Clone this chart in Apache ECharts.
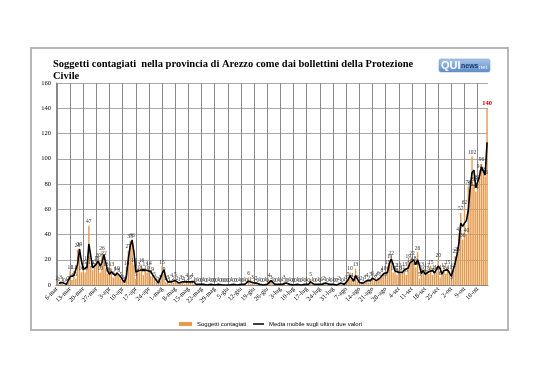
<!DOCTYPE html>
<html><head><meta charset="utf-8">
<script src="https://cdn.jsdelivr.net/npm/echarts@6/dist/echarts.min.js"></script>
<style>html,body{margin:0;padding:0;background:#fff}#c{width:538px;height:380px}</style>
</head><body><div id="c"></div>
<script>
const titleText = 'Soggetti contagiati  nella provincia di Arezzo come dai bollettini della Protezione\nCivile';
const seriesNames = ['Soggetti contagiati', 'Media mobile sugli ultimi due valori'];
const startDay = 6;
const monthNames = ['mar', 'apr', 'mag', 'giu', 'lug', 'ago', 'set', 'ott'];
const monthLengths = [31, 30, 31, 30, 31, 31, 30, 31];
const yMin = 0, yMax = 160, yStep = 20;

const values = [
  2,1,3,1,0,1,2,
  11,4,11,5,28,29,10,
  15,10,18,47,15,12,15,
  18,20,10,26,22,13,9,
  8,13,6,9,10,8,5,
  3,1,14,27,35,36,16,
  5,13,10,16,8,13,10,
  14,7,9,5,2,1,3,
  15,9,2,3,1,4,2,
  5,2,1,3,2,1,4,
  2,3,4,1,0,1,0,
  0,1,0,0,1,0,0,
  0,0,1,0,0,0,0,
  0,0,1,0,0,0,1,
  0,0,1,0,6,1,3,
  1,2,0,1,0,0,1,
  0,4,3,1,0,0,1,
  0,1,3,0,0,1,0,
  0,0,1,0,0,1,0,
  1,0,5,1,0,0,1,
  0,1,2,1,0,1,0,
  1,0,0,2,1,0,1,
  3,5,10,4,2,13,3,
  1,2,1,3,4,2,5,
  6,3,4,6,5,8,10,
  5,15,19,22,10,12,8,
  12,9,11,13,8,19,16,
  22,18,14,26,5,13,10,
  7,12,9,15,8,11,10,
  20,6,11,12,9,15,11,
  3,12,23,25,41,57,36,
  62,40,78,76,102,80,74,
  82,91,96,88,86,140
];

const categories = [];
{
  let m = 0, d = startDay;
  for (let i = 0; i < values.length; i++) {
    categories.push(d + '-' + monthNames[m]);
    d++;
    if (d > monthLengths[m]) { d = 1; m++; }
  }
}
// two-period moving average, as named in the legend
const movingAvg = values.map((v, i) => i === 0 ? '-' : (values[i - 1] + v) / 2);

const barData = values.map((v, i) => i === values.length - 1
  ? { value: v, label: { color: '#c00000', fontWeight: 'bold', fontSize: 6.5 } }
  : v);

const legendText = { fontFamily: 'Liberation Sans Narrow, Liberation Sans', fontSize: 6, color: '#000' };

const chart = echarts.init(document.getElementById('c'), null, { renderer: 'canvas' });
chart.setOption({
  animation: false,
  backgroundColor: '#fff',
  title: {
    text: titleText,
    left: 48, top: 53,
    textStyle: { fontFamily: 'Liberation Serif', fontSize: 10.5, fontWeight: 'bold', color: '#000', lineHeight: 12 }
  },
  legend: [
    {
      top: 316, left: 174,
      itemWidth: 13, itemHeight: 4, itemGap: 4,
      textStyle: legendText,
      data: [{ name: seriesNames[0], icon: 'rect' }]
    },
    {
      top: 316, left: 248,
      itemWidth: 11, itemHeight: 1.5,
      textStyle: legendText,
      data: [{ name: seriesNames[1], icon: 'rect' }]
    }
  ],
  grid: { left: 56, right: 50, top: 83, bottom: 95 },
  xAxis: {
    type: 'category',
    data: categories,
    boundaryGap: true,
    axisLine: { lineStyle: { color: '#888', width: 1 } },
    axisTick: { show: false },
    axisLabel: { interval: 6, rotate: 45, fontFamily: 'Liberation Serif', fontSize: 6.5, color: '#000', margin: 3 },
    splitLine: { show: true, interval: 6, alignWithLabel: true, lineStyle: { color: '#8a8a8a', width: 1 } }
  },
  yAxis: {
    type: 'value',
    min: yMin, max: yMax, interval: yStep,
    axisLine: { show: true, lineStyle: { color: '#888', width: 1 } },
    axisTick: { show: false },
    axisLabel: { fontFamily: 'Liberation Serif', fontSize: 6.5, color: '#000', margin: 5 },
    splitLine: { show: true, lineStyle: { color: '#a8a8a8', width: 1 } }
  },
  series: [
    {
      name: seriesNames[0],
      type: 'bar',
      data: barData,
      barCategoryGap: '25%',
      itemStyle: { color: '#E39B50' },
      label: { show: true, position: 'top', distance: 1, fontFamily: 'Liberation Serif', fontSize: 5.5, color: '#333' }
    },
    {
      name: seriesNames[1],
      type: 'line',
      data: movingAvg,
      symbol: 'none',
      z: 5,
      lineStyle: { color: '#000', width: 1.6 },
      itemStyle: { color: '#000' }
    }
  ],
  graphic: [
    { type: 'rect', shape: { x: 31, y: 48, width: 477, height: 282 }, style: { fill: 'none', stroke: '#b5b5b5', lineWidth: 2 }, silent: true },
    { type: 'rect', shape: { x: 439, y: 59, width: 51, height: 13, r: 2 },
      style: { fill: new echarts.graphic.LinearGradient(0, 0, 0, 1, [{ offset: 0, color: '#a9c6ea' }, { offset: 1, color: '#5d8cc8' }]), stroke: '#6f93c4', lineWidth: 0.5 } },
    { type: 'text', x: 441, y: 60, style: { text: 'QUI', fill: '#fff', font: 'bold 11px Liberation Sans' } },
    { type: 'text', x: 461, y: 63, style: { text: 'news', fill: '#1d3c6e', font: 'bold 7px Liberation Sans' } },
    { type: 'text', x: 479, y: 64, style: { text: 'net', fill: '#eef3fa', font: '6px Liberation Sans' } }
  ]
});
</script>
</body></html>
